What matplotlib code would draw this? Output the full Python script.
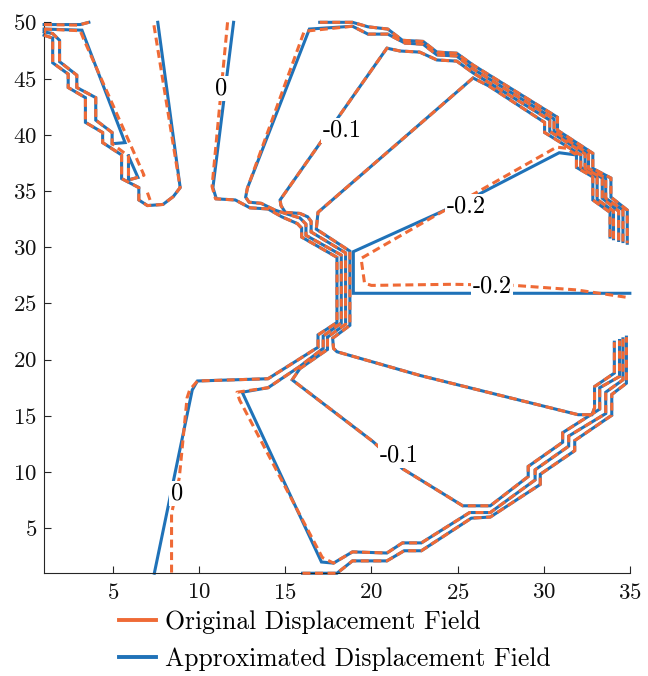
import matplotlib
matplotlib.use("Agg")
import matplotlib.pyplot as plt
from matplotlib.lines import Line2D

plt.rcParams['font.family'] = 'cmr10'
plt.rcParams['mathtext.fontset'] = 'cm'
plt.rcParams['axes.formatter.use_mathtext'] = True

BLUE = '#1f72b8'
ORANGE = '#ef6a36'

# ---- contour lines of the approximated field, (x, y) pairs ----
approx_tl_edge = [(1.0, 49.8), (3.1, 49.8), (3.6, 50.0)]
approx_tl_loop = [(1.0, 49.4), (3.2, 49.3), (5.7, 39.3), (4.95, 39.2), (4.95, 40.2), (4.0, 41.3),
                  (4.0, 43.3), (2.9, 44.2), (2.9, 45.3), (1.9, 46.5), (1.9, 48.4), (1.5, 49.0),
                  (1.0, 49.15)]
approx_tl_stair = [(1.0, 48.85), (1.5, 48.6), (1.5, 46.4), (2.4, 45.4), (2.4, 44.2), (3.4, 43.3),
                   (3.4, 41.1), (4.4, 40.2), (4.4, 39.3), (5.5, 38.2), (5.5, 36.1), (6.5, 35.3),
                   (6.5, 34.2), (7.0, 33.7), (7.9, 33.8), (8.5, 34.5), (8.9, 35.3), (7.6, 50.0)]
approx_tl_island = [(5.9, 38.1), (6.45, 36.2), (5.9, 36.0), (5.9, 38.1)]

approx_c0 = [(12.0, 50.0), (10.8, 35.3), (11.0, 34.3), (12.1, 34.2), (12.95, 33.5), (14.0, 33.4),
             (14.8, 32.7), (15.7, 32.1), (15.95, 31.7), (15.95, 30.9), (18.0, 29.1), (18.0, 23.3),
             (16.9, 22.2), (16.9, 21.1), (14.0, 18.3), (9.9, 18.1), (9.6, 17.3), (7.4, 1.0)]

approx_c1 = [(34.6, 30.5), (34.6, 33.3), (33.6, 34.35), (33.6, 36.15), (32.6, 37.0), (32.6, 38.3),
             (30.6, 40.3), (30.6, 41.4), (25.9, 45.85), (24.95, 47.0), (23.8, 47.1), (23.0, 48.05),
             (21.95, 48.15), (20.95, 48.95), (19.8, 48.95), (18.9, 49.65), (16.4, 49.4),
             (12.8, 35.25), (12.7, 34.45), (12.9, 34.0), (13.6, 33.9), (14.4, 33.3), (15.0, 33.0),
             (15.85, 32.6), (16.2, 32.05), (16.2, 31.05), (18.25, 29.3), (18.25, 23.25),
             (17.2, 22.1), (17.2, 21.0), (15.85, 19.4), (14.0, 17.5), (12.5, 17.1), (17.1, 2.0),
             (17.8, 1.9), (18.9, 2.9), (20.9, 2.8), (21.8, 3.7), (22.9, 3.7), (25.7, 6.4),
             (26.9, 6.4), (29.5, 9.3), (29.5, 10.2), (31.45, 12.3), (31.45, 13.2), (33.6, 15.2),
             (33.6, 17.1), (34.6, 18.2), (34.6, 21.85)]

approx_c2 = [(34.35, 30.6), (34.35, 33.2), (33.4, 34.35), (33.4, 36.15), (32.4, 37.0), (32.4, 38.3),
             (30.35, 40.3), (30.35, 41.3), (25.9, 45.5), (24.95, 46.55), (23.8, 46.65),
             (22.8, 47.35), (21.65, 47.45), (20.9, 47.7), (14.7, 34.2), (14.75, 33.7), (15.0, 33.1),
             (15.85, 33.0), (16.3, 32.7), (16.5, 32.3), (16.5, 31.35), (18.5, 29.5), (18.5, 23.15),
             (17.45, 22.0), (17.45, 20.9), (15.85, 19.2), (15.4, 18.2), (20.1, 12.7), (21.8, 10.3),
             (25.3, 7.0), (26.9, 7.0), (29.1, 9.6), (29.1, 10.5), (31.1, 12.65), (31.1, 13.5),
             (33.25, 15.6), (33.25, 17.5), (34.4, 18.5), (34.4, 21.7)]

approx_c3 = [(34.05, 30.75), (34.05, 33.2), (33.1, 34.25), (33.1, 36.2), (32.15, 37.1), (32.15, 38.2),
             (30.05, 40.2), (30.05, 41.1), (26.8, 44.35), (25.9, 45.05), (16.9, 33.1), (16.8, 31.6),
             (18.75, 29.65), (18.75, 23.05), (17.75, 21.9), (17.8, 21.0), (18.0, 20.7), (22.8, 18.6),
             (32.0, 15.1), (32.8, 15.1), (32.95, 15.7), (32.95, 17.6), (34.1, 18.8), (34.1, 21.55)]

approx_c4 = [(33.85, 30.9), (33.85, 33.1), (32.85, 34.2), (32.85, 36.25), (31.9, 37.1), (31.9, 38.2),
             (30.9, 38.4), (26.1, 34.6), (23.7, 32.9), (18.95, 29.6), (18.95, 25.9), (35.0, 25.9)]

approx_top = [(17.0, 50.0), (18.9, 50.0), (19.8, 49.6), (20.95, 49.4), (21.8, 48.4), (23.0, 48.3),
              (23.8, 47.35), (24.95, 47.25), (25.9, 46.2), (30.8, 41.55), (30.8, 40.4),
              (32.85, 38.35), (32.85, 37.0), (33.9, 36.15), (33.9, 34.45), (34.85, 33.3),
              (34.85, 30.35)]

approx_bottom = [(16.0, 1.0), (18.0, 1.0), (18.9, 2.1), (20.9, 2.1), (21.9, 3.0), (22.9, 3.0),
                 (25.8, 5.9), (26.9, 6.0), (29.8, 8.9), (29.8, 9.8), (31.8, 11.9), (31.8, 12.8),
                 (33.95, 15.05), (33.95, 16.9), (34.8, 17.9), (34.8, 22.0)]

# ---- contour lines of the original field ----
orig_tl_edge = [(1.0, 49.8), (3.0, 49.75), (3.6, 50.0)]
orig_tl_loop = [(1.0, 49.4), (3.1, 49.25), (3.3, 48.5), (6.8, 36.4), (6.0, 36.0), (5.9, 36.3),
                (5.9, 38.1), (4.95, 39.2), (4.95, 40.2), (4.0, 41.3), (4.0, 43.3), (2.9, 44.2),
                (2.9, 45.3), (1.9, 46.5), (1.9, 48.4), (1.5, 49.0), (1.0, 49.15)]
orig_tl_stair = [(1.0, 48.85), (1.5, 48.6), (1.5, 46.4), (2.4, 45.4), (2.4, 44.2), (3.4, 43.3),
                 (3.4, 41.1), (4.4, 40.2), (4.4, 39.3), (5.5, 38.2), (5.5, 36.1), (6.5, 35.3),
                 (6.5, 34.2), (7.0, 33.7), (7.9, 33.8), (8.5, 34.5), (8.9, 35.3), (7.35, 50.0)]
orig_tl_bit = [(7.0, 34.85), (7.15, 34.2)]

orig_c0 = [(11.65, 50.0), (10.75, 35.4), (10.95, 34.3), (12.1, 34.2), (12.95, 33.5), (14.0, 33.4),
           (14.8, 32.7), (15.7, 32.1), (15.95, 31.7), (15.95, 30.9), (18.0, 29.1), (18.0, 23.3),
           (16.9, 22.2), (16.9, 21.1), (14.0, 18.3), (9.9, 18.1), (9.45, 17.3), (9.3, 16.6),
           (8.85, 9.5), (8.4, 6.3), (8.4, 1.0)]

orig_c1 = [(34.6, 30.5), (34.6, 33.3), (33.6, 34.35), (33.6, 36.15), (32.6, 37.0), (32.6, 38.3),
           (30.6, 40.3), (30.6, 41.4), (25.9, 45.85), (24.95, 47.0), (23.8, 47.1), (23.0, 48.05),
           (21.95, 48.15), (20.95, 48.95), (19.8, 48.95), (18.9, 49.65), (16.1, 49.2),
           (12.8, 35.25), (12.7, 34.45), (12.9, 34.0), (13.6, 33.9), (14.4, 33.3), (15.0, 33.0),
           (15.85, 32.6), (16.2, 32.05), (16.2, 31.05), (18.25, 29.3), (18.25, 23.25),
           (17.2, 22.1), (17.2, 21.0), (15.85, 19.4), (14.0, 17.5), (12.2, 17.1), (12.35, 16.4),
           (17.15, 2.4), (17.8, 1.9), (18.9, 2.9), (20.9, 2.8), (21.8, 3.7), (22.9, 3.7),
           (25.7, 6.4), (26.9, 6.4), (29.5, 9.3), (29.5, 10.2), (31.45, 12.3), (31.45, 13.2),
           (33.6, 15.2), (33.6, 17.1), (34.6, 18.2), (34.6, 21.85)]

orig_c2 = approx_c2
orig_c3 = approx_c3

orig_c4 = [(33.85, 30.9), (33.85, 33.1), (32.85, 34.2), (32.85, 36.25), (31.9, 37.1), (31.9, 38.2),
           (31.3, 38.8), (30.75, 38.9), (25.8, 34.6), (23.7, 32.8), (19.4, 29.0), (19.6, 26.8),
           (20.0, 26.6), (24.7, 26.7), (28.3, 26.6), (31.9, 26.2), (35.0, 25.5)]

orig_top = approx_top
orig_bottom = approx_bottom

# contour level labels
label_text = ['0', '-0.1', '-0.2', '-0.2', '-0.1', '0']
label_x = [11.3, 18.3, 25.5, 27.0, 21.6, 8.7]
label_y = [44.1, 40.4, 33.6, 26.5, 11.5, 8.1]

approx_lines = [approx_tl_edge, approx_tl_loop, approx_tl_stair, approx_tl_island, approx_c0,
                approx_c1, approx_c2, approx_c3, approx_c4, approx_top, approx_bottom]
orig_lines = [orig_tl_edge, orig_tl_loop, orig_tl_stair, orig_tl_bit, orig_c0, orig_c1,
              orig_c2, orig_c3, orig_c4, orig_top, orig_bottom]

fig = plt.figure(figsize=(6.48, 6.76), dpi=100)
ax = fig.add_axes([0.068, 0.152, 0.904, 0.815])

for line in approx_lines:
    xs, ys = zip(*line)
    ax.plot(xs, ys, color=BLUE, lw=2.2, zorder=2, clip_on=False,
            solid_joinstyle='miter')
for line in orig_lines:
    xs, ys = zip(*line)
    ax.plot(xs, ys, color=ORANGE, lw=2.2, ls=(0, (2.6, 1.5)), zorder=3, clip_on=False)

for t, x, y in zip(label_text, label_x, label_y):
    ax.text(x, y, t, fontsize=17.5, ha='center', va='center', zorder=5,
            bbox=dict(facecolor='white', edgecolor='none', pad=1.0))

ax.set_xlim(1, 35)
ax.set_ylim(1, 50)
ax.set_xticks(range(5, 36, 5))
ax.set_yticks(range(5, 51, 5))
for side in ['top', 'right']:
    ax.spines[side].set_visible(False)
for side in ['left', 'bottom']:
    ax.spines[side].set_color('#262626')
    ax.spines[side].set_linewidth(0.8)
ax.tick_params(direction='in', length=5, width=0.8, color='#262626', labelsize=16.5,
               labelcolor='#111111')
ax.tick_params(axis='x', pad=7)
ax.tick_params(axis='y', pad=5)

handles = [Line2D([], [], color=ORANGE, lw=2.8), Line2D([], [], color=BLUE, lw=2.8)]
fig.legend(handles, ['Original Displacement Field', 'Approximated Displacement Field'],
           loc='upper left', bbox_to_anchor=(0.184, 0.097), frameon=False, fontsize=18.5,
           handlelength=1.45, handletextpad=0.32, labelspacing=0.5, borderpad=0,
           borderaxespad=0)

fig.savefig('out.png', dpi=100)
